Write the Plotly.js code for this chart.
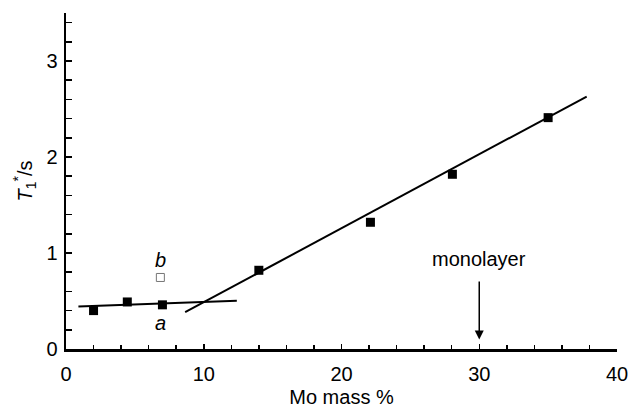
<!DOCTYPE html>
<html>
<head>
<meta charset="utf-8">
<script src="https://cdn.plot.ly/plotly-3.0.1.min.js"></script>
<style>html,body{margin:0;padding:0;background:#fff;}#chart{width:630px;height:411px;}</style>
</head>
<body>
<div id="chart"></div>
<script>
// Filled points (Mo mass %, T1*/s)
const moMass = [2.0, 4.45, 7.0, 14.0, 22.1, 28.05, 35.0];
const t1 = [0.40, 0.49, 0.46, 0.82, 1.32, 1.82, 2.41];
// Open point b
const bMass = [6.85];
const bT1 = [0.745];
// Fitted lines
const flatLineX = [0.9, 12.4];
const flatLineY = [0.442, 0.502];
const slopeLineX = [8.65, 37.8];
const slopeLineY = [0.383, 2.63];
// Annotations
const monolayerX = 30;
const xTickVals = [0, 10, 20, 30, 40];
const yTickVals = [0, 1, 2, 3];

const font = {family: 'Liberation Sans, Arial, sans-serif', color: '#000', size: 20};

const traces = [
  {x: flatLineX, y: flatLineY, mode: 'lines', line: {color: '#000', width: 2}, hoverinfo: 'skip'},
  {x: slopeLineX, y: slopeLineY, mode: 'lines', line: {color: '#000', width: 2}, hoverinfo: 'skip'},
  {x: moMass, y: t1, mode: 'markers', marker: {symbol: 'square', size: 9, color: '#000'}},
  {x: bMass, y: bT1, mode: 'markers', marker: {symbol: 'square-open', size: 8, color: '#777', line: {width: 1}}}
];

const layout = {
  width: 630, height: 411,
  margin: {l: 66, r: 13, t: 13, b: 62},
  paper_bgcolor: '#fff', plot_bgcolor: '#fff',
  showlegend: false,
  font: font,
  xaxis: {
    range: [0, 40], showgrid: false, zeroline: false,
    showline: true, linecolor: '#000', linewidth: 2.5,
    ticks: 'inside', ticklen: 5, tickwidth: 1.5, tickcolor: '#000',
    tickvals: xTickVals, ticklabelstandoff: 5,
    minor: {dtick: 2, ticks: 'inside', ticklen: 4, tickwidth: 1.5, tickcolor: '#000'},
    tickfont: font,
    title: {text: 'Mo mass %', font: font, standoff: 7}
  },
  yaxis: {
    range: [0, 3.5], showgrid: false, zeroline: false,
    showline: true, linecolor: '#000', linewidth: 2.5,
    ticks: 'inside', ticklen: 6, tickwidth: 1.5, tickcolor: '#000',
    tickvals: yTickVals, ticklabelstandoff: 2,
    minor: {dtick: 0.2, ticks: 'inside', ticklen: 6, tickwidth: 1.5, tickcolor: '#000'},
    tickfont: font,
    title: {text: '<i>T</i><sub>1</sub><sup>*</sup>/s', font: font, standoff: 9}
  },
  annotations: [
    {x: 6.85, y: 0.93, text: '<i>b</i>', showarrow: false, font: font},
    {x: 6.85, y: 0.27, text: '<i>a</i>', showarrow: false, font: font},
    {x: monolayerX, y: 0.94, text: 'monolayer', showarrow: false, font: font},
    {x: monolayerX, y: 0.10, ax: monolayerX, ay: 0.72, axref: 'x', ayref: 'y', text: '',
     showarrow: true, arrowhead: 2, arrowsize: 1.2, arrowwidth: 1.5, arrowcolor: '#000'}
  ]
};

Plotly.newPlot('chart', traces, layout, {displayModeBar: false, staticPlot: true});
</script>
</body>
</html>
